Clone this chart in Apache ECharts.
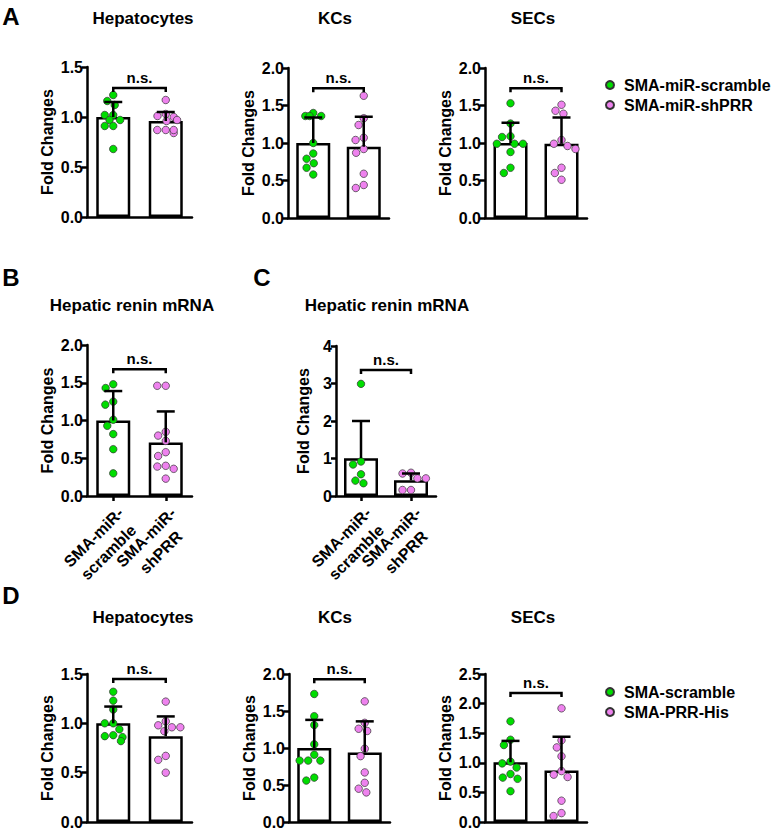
<!DOCTYPE html>
<html>
<head>
<meta charset="utf-8">
<script src="https://cdn.jsdelivr.net/npm/echarts@6/dist/echarts.min.js"></script>
<style>html,body{margin:0;padding:0;background:#fff}#c{width:772px;height:830px}</style>
</head>
<body>
<div id="c"></div>
<script>
// ---------- data ----------
const groupsA = ['SMA-miR-scramble', 'SMA-miR-shPRR'];
const groupsD = ['SMA-scramble', 'SMA-PRR-His'];
const labelsBC = ['SMA-miR-\nscramble', 'SMA-miR-\nshPRR'];

const A_hep_scr = [1.22, 1.16, 1.12, 1.02, 1.02, 0.97, 0.97, 0.91, 0.91, 0.68];
const A_hep_sh  = [1.17, 1.03, 1.01, 1.00, 0.97, 0.96, 0.87, 0.87, 0.84, 0.87];
const A_hep_mean = [1.00, 0.96], A_hep_err = [1.15, 1.05], A_hep_br = 1.29;

const A_kc_scr = [1.40, 1.36, 1.36, 1.36, 1.00, 0.86, 0.79, 0.73, 0.67, 0.58];
const A_kc_sh  = [1.63, 1.33, 1.24, 1.07, 1.04, 0.92, 0.87, 0.59, 0.44, 0.40];
const A_kc_mean = [1.00, 0.95], A_kc_err = [1.34, 1.35], A_kc_br = 1.73;

const A_sec_scr = [1.53, 1.26, 1.09, 1.08, 0.99, 0.99, 0.99, 0.88, 0.67, 0.60];
const A_sec_sh  = [1.51, 1.43, 1.39, 1.04, 0.99, 0.96, 0.92, 0.67, 0.60, 0.51];
const A_sec_mean = [1.00, 0.99], A_sec_err = [1.27, 1.34], A_sec_br = 1.73;

const B_scr = [1.48, 1.43, 1.25, 1.21, 1.01, 0.93, 0.82, 0.62, 0.30];
const B_sh  = [1.46, 1.46, 0.85, 0.80, 0.73, 0.58, 0.53, 0.40, 0.39, 0.36, 0.23];
const B_mean = [1.00, 0.71], B_err = [1.39, 1.12], B_br = 1.68;

const C_scr = [2.99, 0.92, 0.84, 0.58, 0.41, 0.34];
const C_sh  = [0.62, 0.60, 0.47, 0.47, 0.16, 0.16];
const C_mean = [1.01, 0.42], C_err = [2.00, 0.60], C_br = 3.36;

const D_hep_scr = [1.32, 1.23, 1.14, 1.00, 1.00, 0.94, 0.88, 0.87, 0.86, 0.82];
const D_hep_prr = [1.22, 1.02, 0.98, 0.96, 0.96, 0.92, 0.67, 0.63, 0.50];
const D_hep_mean = [1.00, 0.87], D_hep_err = [1.17, 1.07], D_hep_br = 1.45;

const D_kc_scr = [1.73, 1.43, 1.31, 1.05, 0.91, 0.83, 0.83, 0.83, 0.60, 0.56];
const D_kc_prr = [1.63, 1.34, 1.26, 1.23, 0.99, 0.89, 0.67, 0.53, 0.45, 0.40];
const D_kc_mean = [1.00, 0.94], D_kc_err = [1.38, 1.36], D_kc_br = 1.93;

const D_sec_scr = [1.70, 1.39, 1.30, 1.02, 0.99, 0.92, 0.81, 0.75, 0.73, 0.52];
const D_sec_prr = [1.92, 1.38, 1.26, 1.11, 0.86, 0.80, 0.76, 0.36, 0.15, 0.10];
const D_sec_mean = [1.01, 0.87], D_sec_err = [1.37, 1.44], D_sec_br = 2.18;

// ---------- styling / layout ----------
const FF = '"Liberation Sans", Arial, Helvetica, sans-serif';
const GREEN = '#00dd00', PINK = '#ee82ee';
const LW = 2.5;
const FS = 16;

const panels = [
  {grid:{left:87, top:67, width:105, height:150}, max:1.5, interval:0.5, dec:1, names:groupsA, a:A_hep_scr, b:A_hep_sh, mean:A_hep_mean, err:A_hep_err, br:A_hep_br, labels:false, nameGap:32},
  {grid:{left:288, top:68, width:101, height:150}, max:2, interval:0.5, dec:1, names:groupsA, a:A_kc_scr, b:A_kc_sh, mean:A_kc_mean, err:A_kc_err, br:A_kc_br, labels:false, nameGap:32},
  {grid:{left:485, top:68, width:102, height:150}, max:2, interval:0.5, dec:1, names:groupsA, a:A_sec_scr, b:A_sec_sh, mean:A_sec_mean, err:A_sec_err, br:A_sec_br, labels:false, nameGap:32},
  {grid:{left:87, top:345, width:105, height:151}, max:2, interval:0.5, dec:1, names:groupsA, a:B_scr, b:B_sh, mean:B_mean, err:B_err, br:B_br, labels:true, nameGap:32},
  {grid:{left:336, top:346, width:100, height:150}, max:4, interval:1, dec:0, names:groupsA, a:C_scr, b:C_sh, mean:C_mean, err:C_err, br:C_br, labels:true, nameGap:25},
  {grid:{left:87, top:674, width:105, height:150}, max:1.5, interval:0.5, dec:1, names:groupsD, a:D_hep_scr, b:D_hep_prr, mean:D_hep_mean, err:D_hep_err, br:D_hep_br, labels:false, nameGap:32},
  {grid:{left:289, top:674, width:101, height:151}, max:2, interval:0.5, dec:1, names:groupsD, a:D_kc_scr, b:D_kc_prr, mean:D_kc_mean, err:D_kc_err, br:D_kc_br, labels:false, nameGap:32},
  {grid:{left:485, top:674, width:102, height:151}, max:2.5, interval:0.5, dec:1, names:groupsD, a:D_sec_scr, b:D_sec_prr, mean:D_sec_mean, err:D_sec_err, br:D_sec_br, labels:false, nameGap:32}
];

const grids = [], xAxes = [], yAxes = [], series = [];
const axisLineStyle = {color:'#000', width:LW};

panels.forEach((p, i) => {
  grids.push(p.grid);
  xAxes.push({
    type:'category', gridIndex:i, data: p.labels ? labelsBC : [0, 1],
    boundaryGap:true, jitter:30, jitterOverlap:false, jitterMargin:1,
    axisLine:{show:true, lineStyle:axisLineStyle},
    axisTick:{show:p.labels, alignWithLabel:true, length:5, lineStyle:{color:'#000', width:LW}},
    axisLabel: p.labels ? {
      show:true, rotate:45, margin:7, interval:0, hideOverlap:false,
      align:'right', verticalAlign:'top',
      formatter: v => v.split('\n').map(s => '{a|' + s + '}').join('\n'),
      rich:{a:{align:'center', fontSize:FS, fontWeight:'bold', fontFamily:FF, color:'#000', lineHeight:21}}
    } : {show:false},
    splitLine:{show:false}
  });
  yAxes.push({
    type:'value', gridIndex:i, min:0, max:p.max, interval:p.interval,
    name:'Fold Changes', nameLocation:'middle', nameGap:p.nameGap, nameRotate:90,
    nameTextStyle:{fontSize:FS, fontWeight:'bold', fontFamily:FF, color:'#000'},
    axisLine:{show:true, lineStyle:axisLineStyle},
    axisTick:{show:true, length:5, lineStyle:{color:'#000', width:LW}},
    axisLabel:{show:true, margin:4, fontSize:FS, fontWeight:'bold', fontFamily:FF, color:'#000',
               formatter: v => v.toFixed(p.dec)},
    splitLine:{show:false}
  });
  series.push({
    type:'bar', xAxisIndex:i, yAxisIndex:i, data:p.mean, barWidth:34, z:2,
    itemStyle:{color:'#fff', borderColor:'#000', borderWidth:LW}, silent:true
  });
  series.push({
    type:'scatter', name:p.names[0], xAxisIndex:i, yAxisIndex:i, z:3,
    data:p.a.map(v => [0, v]), symbol:'circle', symbolSize:7.5,
    itemStyle:{color:GREEN, borderColor:'#333', borderWidth:0.7, opacity:1}
  });
  series.push({
    type:'scatter', name:p.names[1], xAxisIndex:i, yAxisIndex:i, z:3,
    data:p.b.map(v => [1, v]), symbol:'circle', symbolSize:7.5,
    itemStyle:{color:PINK, borderColor:'#333', borderWidth:0.7, opacity:1}
  });
  series.push({
    type:'custom', xAxisIndex:i, yAxisIndex:i, z:4, silent:true,
    encode:{x:0, y:[1, 2]},
    data:p.mean.map((m, k) => [k, m, p.err[k]]),
    renderItem:(params, api) => {
      const k = api.value(0), m = api.value(1), t = api.value(2);
      const p0 = api.coord([k, m]), p1 = api.coord([k, t]);
      return {type:'group', children:[
        {type:'line', shape:{x1:p0[0], y1:p0[1], x2:p1[0], y2:p1[1]}, style:{stroke:'#000', lineWidth:LW}},
        {type:'line', shape:{x1:p1[0]-9, y1:p1[1], x2:p1[0]+9, y2:p1[1]}, style:{stroke:'#000', lineWidth:LW}}
      ]};
    }
  });
  series.push({
    type:'custom', xAxisIndex:i, yAxisIndex:i, z:4, silent:true,
    encode:{x:[0, 1], y:2},
    data:[[0, 1, p.br]],
    renderItem:(params, api) => {
      const a = api.coord([api.value(0), api.value(2)]);
      const b = api.coord([api.value(1), api.value(2)]);
      return {type:'group', children:[
        {type:'polyline', shape:{points:[[a[0], a[1]+4], [a[0], a[1]], [b[0], b[1]], [b[0], b[1]+4]]},
         style:{stroke:'#000', lineWidth:LW, fill:null}},
        {type:'text', x:(a[0]+b[0])/2, y:a[1]-3,
         style:{text:'n.s.', textAlign:'center', textVerticalAlign:'bottom', verticalAlign:'bottom',
                font:'bold 15px ' + FF, fill:'#000'}}
      ]};
    }
  });
});

function txt(text, x, y, size) {
  return {type:'text', x:x, y:y, silent:true,
    style:{text:text, textAlign:'center', textVerticalAlign:'middle', verticalAlign:'middle',
           font:'bold ' + size + 'px ' + FF, fill:'#000'}};
}

const option = {
  animation:false,
  backgroundColor:'#fff',
  grid:grids, xAxis:xAxes, yAxis:yAxes, series:series,
  legend:[
    {data:groupsA, orient:'vertical', left:600, top:72, itemWidth:18, itemHeight:8, itemGap:4,
     icon:'circle', selectedMode:false,
     textStyle:{fontSize:FS, fontWeight:'bold', fontFamily:FF, color:'#000'}},
    {data:groupsD, orient:'vertical', left:600, top:679, itemWidth:18, itemHeight:8, itemGap:4,
     icon:'circle', selectedMode:false,
     textStyle:{fontSize:FS, fontWeight:'bold', fontFamily:FF, color:'#000'}}
  ],
  graphic:[
    txt('A', 11, 16, 24), txt('B', 11, 277, 24), txt('C', 262, 277, 24), txt('D', 11, 595, 24),
    txt('Hepatocytes', 143, 18, 17), txt('KCs', 335, 18, 17), txt('SECs', 533, 18, 17),
    txt('Hepatic renin mRNA', 132, 305, 17), txt('Hepatic renin mRNA', 387, 305, 17),
    txt('Hepatocytes', 143, 617, 17), txt('KCs', 335, 617, 17), txt('SECs', 533, 617, 17)
  ]
};

const chart = echarts.init(document.getElementById('c'), null, {renderer:'svg', width:772, height:830});
chart.setOption(option);
</script>
</body>
</html>
